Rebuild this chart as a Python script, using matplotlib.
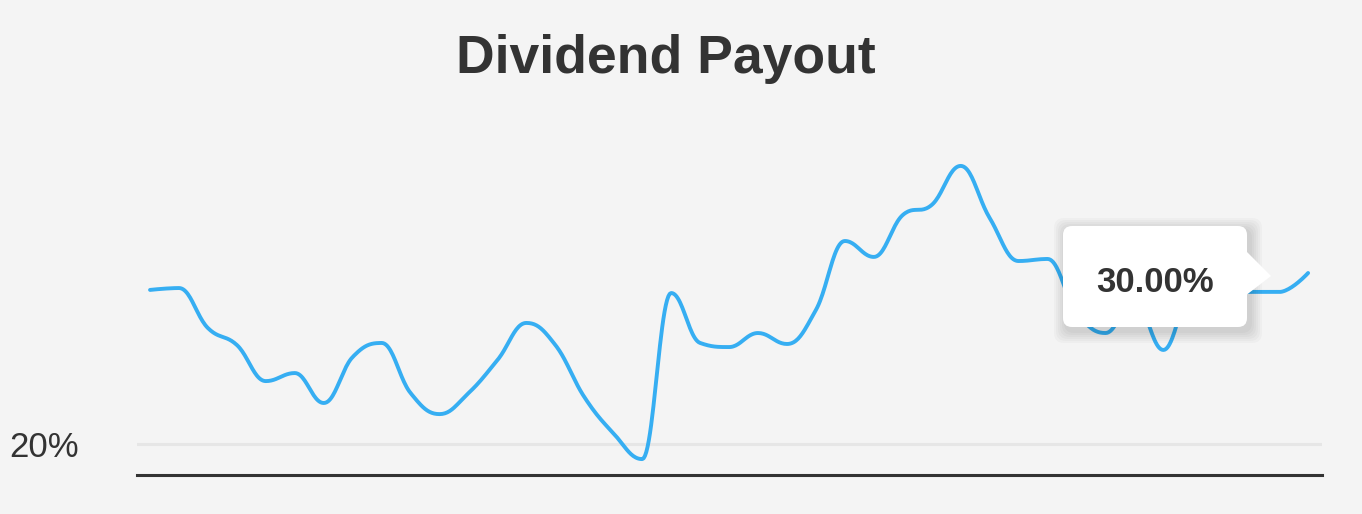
import numpy as np
import matplotlib
matplotlib.use("Agg")
from matplotlib import pyplot as plt
from matplotlib.patches import FancyBboxPatch, Polygon

# quarterly dividend payout ratio (%)
quarters = list(range(41))
payout = [29.01, 29.12, 26.78, 25.79, 23.68, 24.15, 22.40, 25.09, 25.91, 22.98,
          21.75, 22.98, 24.91, 27.08, 25.79, 22.75, 20.64, 19.12, 28.83, 25.91,
          25.67, 26.49, 25.85, 27.84, 31.87, 30.94, 33.39, 33.98, 36.26, 33.22,
          30.70, 30.82, 27.72, 26.49, 28.42, 25.50, 28.89, 28.89, 28.89, 28.89,
          30.00]
y_ticks = [20]
y_tick_labels = ["20%"]
tooltip_text = "30.00%"

bg = "#f4f4f4"
txt = "#333333"
line_c = "#36aef2"


def spline(x, y, n=24, smooth=1.5):
    # bezier spline in the style of highcharts (no false extremes)
    x = np.asarray(x, float)
    y = np.asarray(y, float)
    N = len(x)
    lc = [(x[i], y[i]) for i in range(N)]
    rc = [(x[i], y[i]) for i in range(N)]
    d = smooth + 1
    for i in range(1, N - 1):
        lx = (smooth * x[i] + x[i - 1]) / d
        ly = (smooth * y[i] + y[i - 1]) / d
        rx = (smooth * x[i] + x[i + 1]) / d
        ry = (smooth * y[i] + y[i + 1]) / d
        corr = (ry - ly) * (rx - x[i]) / (rx - lx) + y[i] - ry
        ly += corr
        ry += corr
        if ly > y[i - 1] and ly > y[i]:
            ly = max(y[i - 1], y[i]); ry = 2 * y[i] - ly
        elif ly < y[i - 1] and ly < y[i]:
            ly = min(y[i - 1], y[i]); ry = 2 * y[i] - ly
        if ry > y[i + 1] and ry > y[i]:
            ry = max(y[i + 1], y[i]); ly = 2 * y[i] - ry
        elif ry < y[i + 1] and ry < y[i]:
            ry = min(y[i + 1], y[i]); ly = 2 * y[i] - ry
        lc[i] = (lx, ly)
        rc[i] = (rx, ry)
    xs, ys = [], []
    t = np.linspace(0, 1, n, endpoint=False)
    for i in range(N - 1):
        p0 = np.array([x[i], y[i]])
        p1 = np.array(rc[i])
        p2 = np.array(lc[i + 1])
        p3 = np.array([x[i + 1], y[i + 1]])
        b = ((1 - t)**3)[:, None] * p0 + (3 * (1 - t)**2 * t)[:, None] * p1 \
            + (3 * (1 - t) * t**2)[:, None] * p2 + (t**3)[:, None] * p3
        xs.append(b[:, 0])
        ys.append(b[:, 1])
    xs.append([x[-1]])
    ys.append([y[-1]])
    return np.concatenate(xs), np.concatenate(ys)


fig = plt.figure(figsize=(13.62, 5.14), dpi=100, facecolor=bg)
ax = fig.add_axes([137 / 1362, 39 / 514, 1185 / 1362, 345 / 514])
ax.set_facecolor(bg)

sx, sy = spline(quarters, payout)
ax.plot(sx, sy, color=line_c, lw=2.8, solid_capstyle="round", zorder=3)

ax.set_xlim(-0.45, 40.48)
ax.set_ylim(18.19, 38.36)
ax.set_xticks([])
ax.set_yticks(y_ticks)
ax.set_yticklabels([])
ax.tick_params(axis="y", length=0)
ax.grid(axis="y", color="#e6e6e6", lw=2.2)
for s in ["top", "right", "left"]:
    ax.spines[s].set_visible(False)
ax.spines["bottom"].set_color(txt)
ax.spines["bottom"].set_linewidth(2.2)

for v, lab in zip(y_ticks, y_tick_labels):
    ax.annotate(lab, xy=(0, v), xycoords=("axes fraction", "data"),
                xytext=(-42, -2.5), textcoords="offset points",
                ha="right", va="center", fontsize=25, color=txt,
                family="Liberation Sans")

fig.text(666 / 1362, 1 - 59 / 514, "Dividend Payout", ha="center", va="center",
         fontsize=38.5, fontweight="bold", color=txt, family="Liberation Sans")

# tooltip overlay in pixel coordinates
ov = fig.add_axes([0, 0, 1, 1])
ov.set_xlim(0, 1362)
ov.set_ylim(514, 0)
ov.axis("off")
ov.patch.set_alpha(0)

for k in range(6):
    e = 2 + k * 2
    ov.add_patch(FancyBboxPatch((1063 - e + 3, 226 - e + 4), 184 + 2 * e, 101 + 2 * e,
                                boxstyle="round,pad=0,rounding_size=10",
                                fc="black", ec="none", alpha=0.025))
ov.add_patch(FancyBboxPatch((1063, 226), 184, 101,
                            boxstyle="round,pad=0,rounding_size=9",
                            fc="white", ec="none"))
ov.add_patch(Polygon([(1245, 250), (1271, 276), (1245, 296)], closed=True,
                     fc="white", ec="none"))
ov.text(1155, 282, tooltip_text, ha="center", va="center", fontsize=25,
        fontweight="bold", color=txt, family="Liberation Sans")

plt.savefig("out.png", dpi=100, facecolor=bg)
